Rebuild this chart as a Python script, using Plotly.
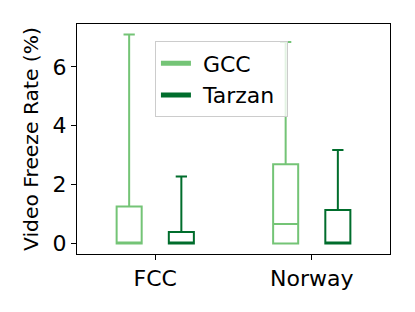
import plotly.graph_objects as go

categories = ["FCC", "Norway"]
series = ["GCC", "Tarzan"]
colors = ["#74c476", "#006d2c"]
# box stats per series: [FCC, Norway]
lower = {"GCC": [0, 0], "Tarzan": [0, 0]}
q1 = {"GCC": [0, 0], "Tarzan": [0, 0]}
median = {"GCC": [0, 0.66], "Tarzan": [0, 0]}
q3 = {"GCC": [1.26, 2.69], "Tarzan": [0.39, 1.14]}
upper = {"GCC": [7.10, 6.84], "Tarzan": [2.28, 3.18]}

fig = go.Figure()
for s, c in zip(series, colors):
    fig.add_trace(go.Box(
        x=categories, q1=q1[s], median=median[s], q3=q3[s],
        lowerfence=lower[s], upperfence=upper[s],
        name=s, line=dict(color=c, width=2), fillcolor="rgba(0,0,0,0)",
        whiskerwidth=0.45, showlegend=False, boxpoints=False,
    ))
for s, c in zip(series, colors):
    fig.add_trace(go.Scatter(x=[None], y=[None], mode="lines", name=" " + s + " ",
                             line=dict(color=c, width=5)))

fig.update_layout(
    width=415, height=312,
    margin=dict(l=77, r=25, t=24, b=58),
    paper_bgcolor="white", plot_bgcolor="white",
    boxmode="group", boxgap=0.333, boxgroupgap=0.52,
    font=dict(family="DejaVu Sans", size=22, color="black"),
    showlegend=True,
    legend=dict(x=0.249, y=0.924, xanchor="left", yanchor="top",
                bgcolor="rgba(255,255,255,0.8)", bordercolor="#cccccc",
                borderwidth=1, font=dict(size=22), itemwidth=30,
                tracegroupgap=2),
)
fig.update_xaxes(range=[-0.5, 1.5], showline=True, linecolor="black", linewidth=1,
                 mirror=True, ticks="outside", ticklen=5, tickcolor="black",
                 showgrid=False, zeroline=False, automargin=False)
fig.update_yaxes(range=[-0.355, 7.455], tickvals=[0, 2, 4, 6], showline=True,
                 linecolor="black", linewidth=1, mirror=True, ticks="outside",
                 ticklen=5, tickcolor="black", showgrid=False, zeroline=False,
                 automargin=False,
                 title=dict(text="Video Freeze Rate (%)", standoff=8,
                            font=dict(size=20.3)))
fig.write_html("out.html", config={"displayModeBar": False},
               post_script="document.body.style.margin='0';")
